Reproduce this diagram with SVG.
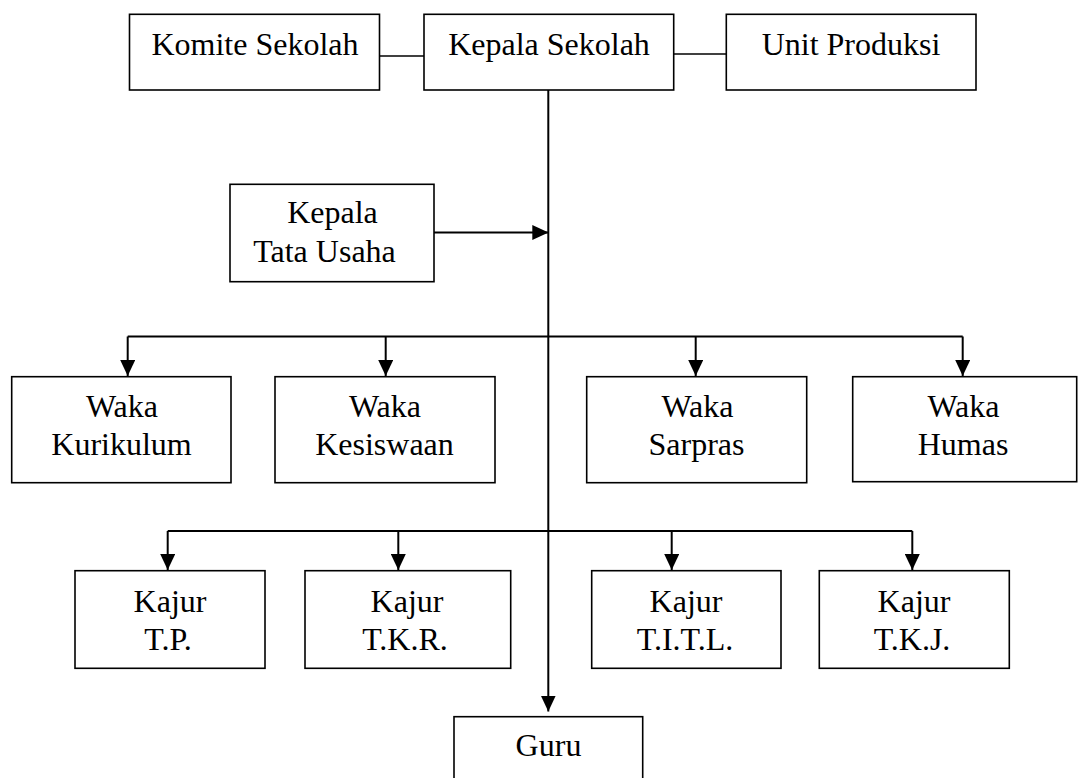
<svg xmlns="http://www.w3.org/2000/svg" width="1078" height="778" viewBox="0 0 1078 778">
<style>
.box{fill:#fff;stroke:#000;stroke-width:1.6}
.t{font-family:"Liberation Serif","Times New Roman",serif;font-size:32px;fill:#000;text-anchor:middle}
.ln{fill:none;stroke:#000;stroke-width:2}
.thin{fill:none;stroke:#000;stroke-width:1.6}
</style>
<defs>
<marker id="ah" markerWidth="16" markerHeight="15" refX="16" refY="7.5" orient="auto" markerUnits="userSpaceOnUse">
<path d="M0,0 L16,7.5 L0,15 Z" fill="#000"/>
</marker>
</defs>
<rect width="1078" height="778" fill="#fff"/>
<g id="connectors">
<line class="thin" x1="380" y1="56" x2="424" y2="56"/>
<line class="thin" x1="674" y1="54" x2="726" y2="54"/>
<line class="ln" x1="548.3" y1="90" x2="548.3" y2="711.5" marker-end="url(#ah)"/>
<line class="ln" x1="434" y1="232.5" x2="548.3" y2="232.5" marker-end="url(#ah)"/>
<line class="ln" x1="127.7" y1="336.5" x2="962.7" y2="336.5"/>
<line class="ln" x1="127.7" y1="336.5" x2="127.7" y2="376" marker-end="url(#ah)"/>
<line class="ln" x1="385.7" y1="336.5" x2="385.7" y2="376" marker-end="url(#ah)"/>
<line class="ln" x1="695.7" y1="336.5" x2="695.7" y2="376" marker-end="url(#ah)"/>
<line class="ln" x1="962.7" y1="336.5" x2="962.7" y2="376" marker-end="url(#ah)"/>
<line class="ln" x1="167.7" y1="531" x2="912.3" y2="531"/>
<line class="ln" x1="167.7" y1="531" x2="167.7" y2="570" marker-end="url(#ah)"/>
<line class="ln" x1="398.3" y1="531" x2="398.3" y2="570" marker-end="url(#ah)"/>
<line class="ln" x1="671.7" y1="531" x2="671.7" y2="570" marker-end="url(#ah)"/>
<line class="ln" x1="912.3" y1="531" x2="912.3" y2="570" marker-end="url(#ah)"/>
</g>
<g id="komite"><rect class="box" x="129.5" y="14.3" width="250" height="75.7"/><text class="t" x="255" y="55">Komite Sekolah</text></g>
<g id="kepala"><rect class="box" x="424" y="14.3" width="249.7" height="75.7"/><text class="t" x="549" y="55">Kepala Sekolah</text></g>
<g id="unit"><rect class="box" x="726.3" y="14.3" width="249.7" height="75.7"/><text class="t" x="851" y="55">Unit Produksi</text></g>
<g id="ktu"><rect class="box" x="230" y="184.3" width="204" height="97.4"/><text class="t" x="332.5" y="223.3">Kepala</text><text class="t" x="324.5" y="261.7">Tata Usaha</text></g>
<g id="waka-kurikulum"><rect class="box" x="11.7" y="376.7" width="219.3" height="106"/><text class="t" x="122" y="416.7">Waka</text><text class="t" x="121.5" y="455">Kurikulum</text></g>
<g id="waka-kesiswaan"><rect class="box" x="275" y="376.7" width="220" height="106"/><text class="t" x="385" y="416.7">Waka</text><text class="t" x="384.5" y="455">Kesiswaan</text></g>
<g id="waka-sarpras"><rect class="box" x="586.7" y="376.7" width="220" height="106"/><text class="t" x="697.5" y="416.7">Waka</text><text class="t" x="696.5" y="455">Sarpras</text></g>
<g id="waka-humas"><rect class="box" x="852.7" y="376.7" width="224" height="105"/><text class="t" x="963.5" y="416.7">Waka</text><text class="t" x="963" y="455">Humas</text></g>
<g id="kajur-tp"><rect class="box" x="75" y="570.7" width="190" height="97.6"/><text class="t" x="170" y="611.7">Kajur</text><text class="t" x="168" y="650">T.P.</text></g>
<g id="kajur-tkr"><rect class="box" x="305" y="570.7" width="205.7" height="97.6"/><text class="t" x="407" y="611.7">Kajur</text><text class="t" x="405" y="650">T.K.R.</text></g>
<g id="kajur-titl"><rect class="box" x="591.7" y="570.7" width="189.3" height="97.6"/><text class="t" x="686" y="611.7">Kajur</text><text class="t" x="685" y="650">T.I.T.L.</text></g>
<g id="kajur-tkj"><rect class="box" x="819.3" y="570.7" width="190" height="97.6"/><text class="t" x="914" y="611.7">Kajur</text><text class="t" x="912" y="650">T.K.J.</text></g>
<g id="guru"><rect class="box" x="454" y="716.7" width="188.7" height="80"/><text class="t" x="548.5" y="756">Guru</text></g>
</svg>
